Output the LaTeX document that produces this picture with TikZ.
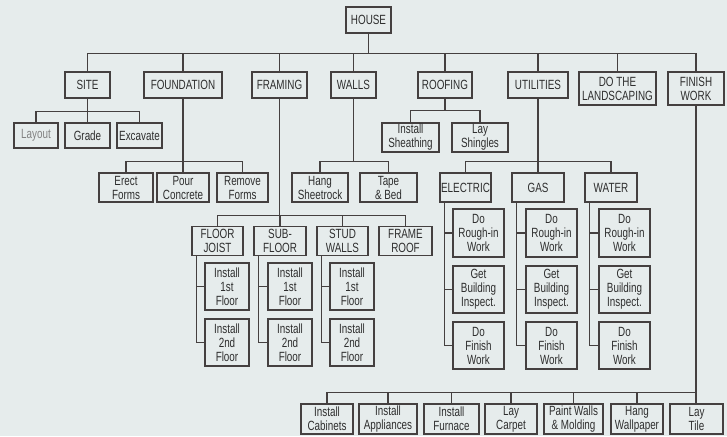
\documentclass[tikz,border=0pt]{standalone}
\usepackage{fontspec}
\newfontfamily\condsans{Liberation Sans}[FakeStretch=0.74]
\definecolor{paper}{HTML}{E6ECEC}
\definecolor{ink}{HTML}{454040}
\definecolor{txt}{HTML}{2E2E2E}
\tikzset{
	wbs/.style={draw=ink, line width=1pt, text=txt, align=center, inner sep=0pt,
		font=\condsans\fontsize{10}{10.5}\selectfont},
	sz/.style 2 args={minimum width=#1*0.75pt, minimum height=#2*0.75pt},
	link/.style={draw=ink, line width=1.1pt},
}

\begin{document}
\begin{tikzpicture}[x=0.75pt, y=-0.75pt]
		\fill [paper] (0, 0) rectangle (727, 436);
		\useasboundingbox (0, 0) rectangle (727, 436);
		% top level
		\node [wbs, sz={45}{26}] (house) at (368.5, 20) {HOUSE};
		\node [wbs, sz={45}{26}] (site) at (87.5, 85) {SITE};
		\node [wbs, sz={78}{26}] (found) at (183, 85) {FOUNDATION};
		\node [wbs, sz={55}{26}] (fram) at (279.5, 85) {FRAMING};
		\node [wbs, sz={45}{26}] (walls) at (353.5, 85) {WALLS};
		\node [wbs, sz={54}{26}] (roof) at (445, 85) {ROOFING};
		\node [wbs, sz={60}{26}] (util) at (538, 85) {UTILITIES};
		\node [wbs, sz={77}{33}] (land) at (617.5, 88.5) {DO THE\\LANDSCAPING};
		\node [wbs, sz={56}{33}] (finish) at (696, 88.5) {FINISH\\WORK};
		\foreach \c in {site, found, fram, walls, roof, util, land, finish}
			\draw [link] (house.south) -- ++(0, 20) -| (\c.north);
		% site
		\node [wbs, sz={44}{25}, text=txt!60] (layout) at (36, 135.5) {Layout};
		\node [wbs, sz={45}{25}] (grade) at (87.5, 135.5) {Grade};
		\node [wbs, sz={45}{25}] (exc) at (139.5, 135.5) {Excavate};
		\foreach \c in {layout, grade, exc}
			\draw [link] (site.south) -- ++(0, 13) -| (\c.north);
		% foundation
		\node [wbs, sz={54}{29}] (erect) at (126, 187.5) {Erect\\Forms};
		\node [wbs, sz={52}{29}] (pour) at (183, 187.5) {Pour\\Concrete};
		\node [wbs, sz={51}{29}] (remove) at (242.5, 187.5) {Remove\\Forms};
		\foreach \c in {erect, pour, remove}
			\draw [link] (found.south) -- ++(0, 63) -| (\c.north);
		% walls
		\node [wbs, sz={56}{29}] (hang) at (320, 187.5) {Hang\\Sheetrock};
		\node [wbs, sz={57}{29}] (tape) at (388.5, 187.5) {Tape\\\& Bed};
		\foreach \c in {hang, tape}
			\draw [link] (walls.south) -- ++(0, 63) -| (\c.north);
		% roofing
		\node [wbs, sz={57}{29}] (sheath) at (410.5, 137.5) {Install\\Sheathing};
		\node [wbs, sz={56}{29}] (shingle) at (480, 137.5) {Lay\\Shingles};
		\foreach \c in {sheath, shingle}
			\draw [link] (roof.south) -- ++(0, 12) -| (\c.north);
		% framing
		\node [wbs, sz={51}{29}] (joist) at (217.5, 241) {FLOOR\\JOIST};
		\node [wbs, sz={52}{29}] (subfl) at (280, 241) {SUB-\\FLOOR};
		\node [wbs, sz={51}{29}] (stud) at (342.5, 241) {STUD\\WALLS};
		\node [wbs, sz={53}{29}] (froof) at (405.5, 241) {FRAME\\ROOF};
		\foreach \c in {joist, subfl, stud, froof}
			\draw [link] (fram.south) -- ++(0, 117) -| (\c.north);
		\foreach \p/\x in {joist/227, subfl/290, stud/352} {
			\node [wbs, sz={44}{47}] (\p1) at (\x, 286.5) {Install\\1st\\Floor};
			\node [wbs, sz={44}{47}] (\p2) at (\x, 342.5) {Install\\2nd\\Floor};
			\draw [link] ([xshift=3.75pt]\p.south west) |- (\p1.west);
			\draw [link] ([xshift=3.75pt]\p.south west) |- (\p2.west);
		}
		% utilities
		\node [wbs, sz={51}{29}] (elec) at (465.5, 187.5) {ELECTRIC};
		\node [wbs, sz={52}{29}] (gas) at (538, 187.5) {GAS};
		\node [wbs, sz={52}{29}] (water) at (611, 187.5) {WATER};
		\foreach \c in {elec, gas, water}
			\draw [link] (util.south) -- ++(0, 63) -| (\c.north);
		\foreach \p/\x in {elec/478.5, gas/551.5, water/624.5} {
			\node [wbs, sz={51}{48}] (\p1) at (\x, 233) {Do\\Rough-in\\Work};
			\node [wbs, sz={51}{47}] (\p2) at (\x, 289.5) {Get\\Building\\Inspect.};
			\node [wbs, sz={51}{47}] (\p3) at (\x, 345.5) {Do\\Finish\\Work};
			\foreach \k in {1, 2, 3}
				\draw [link] ([xshift=3.75pt]\p.south west) |- (\p\k.west);
		}
		% finish work
		\node [wbs, sz={52}{30}] (cab) at (327, 419) {Install\\Cabinets};
		\node [wbs, sz={58}{30}] (appl) at (388, 419) {Install\\Appliances};
		\node [wbs, sz={55}{30}] (furn) at (451.5, 419) {Install\\Furnace};
		\node [wbs, sz={52}{30}] (carpet) at (511, 419) {Lay\\Carpet};
		\node [wbs, sz={59}{30}] (paint) at (573.5, 419) {Paint Walls\\\& Molding};
		\node [wbs, sz={52}{30}] (wallp) at (637, 419) {Hang\\Wallpaper};
		\node [wbs, sz={53}{30}] (tile) at (696.5, 419) {Lay\\Tile};
		\foreach \c in {cab, appl, furn, carpet, paint, wallp}
			\draw [link] (finish.south) -- ++(0, 287) -| (\c.north);
		\draw [link] (finish.south) -- (finish.south |- tile.north);
	\end{tikzpicture}
\end{document}
